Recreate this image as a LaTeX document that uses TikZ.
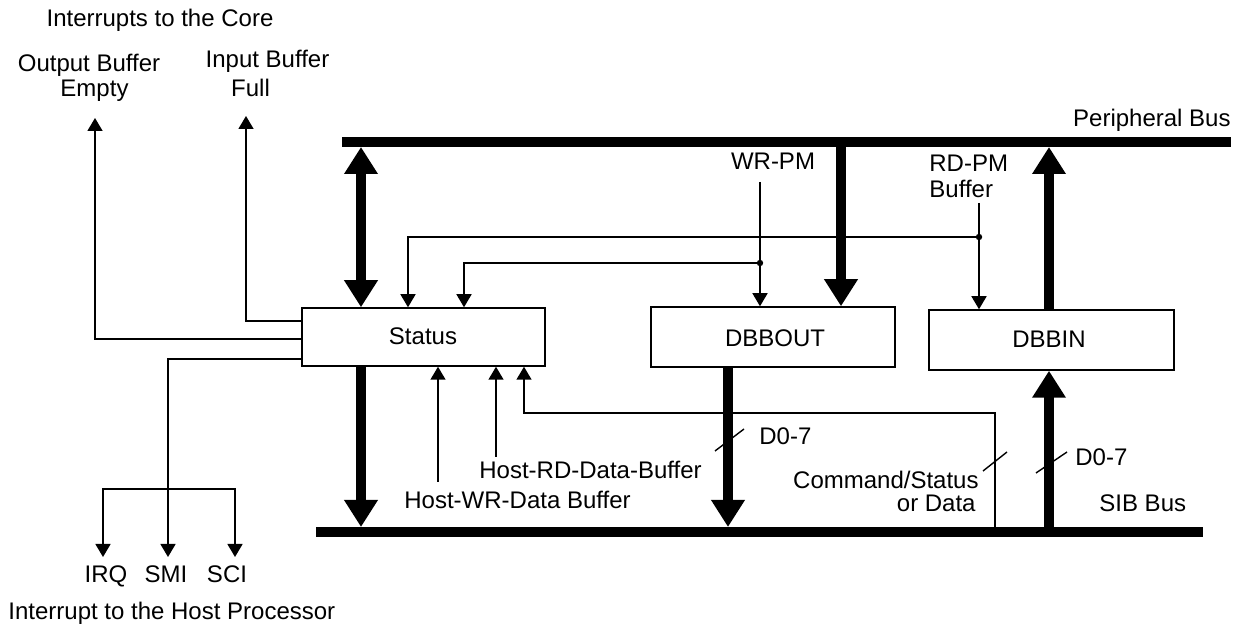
\documentclass[tikz,border=0pt]{standalone}
\usepackage{fontspec}
\setmainfont{Liberation Sans}
\usetikzlibrary{arrows.meta}
\begin{document}
\begin{tikzpicture}[x=0.5pt,y=-0.5pt,
  every node/.style={font=\fontsize{12}{14}\selectfont, inner sep=0pt},
  box/.style={draw, line width=0.75pt, inner sep=0pt},
  thinline/.style={line width=0.75pt},
  thinarrow/.style={line width=0.75pt, -{Triangle[width=7.5pt,length=6.5pt]}},
  bus/.style={line width=5pt},
  fat/.style={line width=5pt, -{Triangle[width=16pt,length=13.5pt]}},
  fatboth/.style={line width=5pt, {Triangle[width=16pt,length=13.5pt]}-{Triangle[width=16pt,length=13.5pt]}},
  slash/.style={line width=0.7pt}
]
\useasboundingbox (0,0) rectangle (1243,625);

% boxes
\node[box, minimum width=121.5pt, minimum height=29pt] (status) at (423.5,337) {};
\node[anchor=base] (statust) at (423,345) {Status};
\node[box, minimum width=122pt, minimum height=30pt] (dbbout) at (773,337) {};
\node[anchor=base] (dbboutt) at (775,347) {DBBOUT};
\node[box, minimum width=122.5pt, minimum height=30pt] (dbbin) at (1051.5,340) {};
\node[anchor=base] (dbbint) at (1049,348) {DBBIN};

% buses
\coordinate (pb1) at (342,142); \coordinate (pb2) at (1231,142);
\coordinate (sb1) at (316,532); \coordinate (sb2) at (1203,532);
\draw[bus] (pb1) -- (pb2);
\draw[bus] (sb1) -- (sb2);
\node[anchor=base east] (pbl) at (1231,127) {Peripheral Bus};
\node[anchor=base west] (sbl) at (1099,512) {SIB Bus};

% thick arrows
\coordinate (pbS) at (361,147);
\draw[fatboth] (pbS) -- (pbS |- status.north);
\coordinate (sbS) at (361,527);
\draw[fat] (status.south -| sbS) -- (sbS);
\coordinate (pbO) at (841,147);
\draw[fat] (pbO) -- (pbO |- dbbout.north);
\coordinate (sbO) at (728,527);
\draw[fat] (dbbout.south -| sbO) -- (sbO);
\coordinate (pbI) at (1049,147);
\draw[fat] (pbI |- dbbin.north) -- (pbI);
\coordinate (sbI) at (1049,527);
\draw[fat] (sbI) -- (sbI |- dbbin.south);

% WR-PM
\node[anchor=base] (wrpm) at (773,170) {WR-PM};
\coordinate (wrTop) at (760,182);
\coordinate (wrJ) at (760,263);
\draw[thinarrow] (wrTop) -- (wrTop |- dbbout.north);
\fill (wrJ) circle (1.6pt);
\draw[thinarrow] (wrJ) -| ([xshift=20.25pt]status.north);

% RD-PM
\node[anchor=base west] (rdpm1) at (929,172) {RD-PM};
\node[anchor=base west] (rdpm2) at (929,198) {Buffer};
\coordinate (rdTop) at (979,203);
\coordinate (rdJ) at (979,237);
\draw[thinarrow] (rdTop) -- (rdTop |- dbbin.north);
\fill (rdJ) circle (1.6pt);
\draw[thinarrow] (rdJ) -| ([xshift=-7.75pt]status.north);

% host buffer arrows into Status
\coordinate (hw) at (438,482);
\draw[thinarrow] (hw) -- (hw |- status.south);
\coordinate (hr) at (496,457);
\draw[thinarrow] (hr) -- (hr |- status.south);
\node[anchor=base west] (hrl) at (479,479) {Host-RD-Data-Buffer};
\node[anchor=base west] (hwl) at (404,509) {Host-WR-Data Buffer};

% command/status line
\coordinate (cs) at (995,527);
\coordinate (csC) at (524,413);
\draw[thinarrow] (cs) |- (csC) -- (csC |- status.south);
\node[anchor=base east] (csl1) at (979,489) {Command/Status};
\node[anchor=base east] (csl2) at (976,512) {or Data};

% slashes
\coordinate (sl1) at (729,440);
\draw[slash] (sl1) +(-14,11) -- +(15,-11);
\coordinate (sl2) at (1051,462);
\draw[slash] (sl2) +(-15,11) -- +(16,-10);
\coordinate (sl3) at (995,461);
\draw[slash] (sl3) +(-12,10) -- +(12,-9);
\node[anchor=base west] (d1) at (759,445) {D0-7};
\node[anchor=base west] (d2) at (1075,466) {D0-7};

% interrupts to the core
\node[anchor=base] (ic) at (160,27) {Interrupts to the Core};
\node[anchor=base] (ob1) at (89,72) {Output Buffer};
\node[anchor=base] (ob2) at (94.5,97) {Empty};
\node[anchor=base] (ib1) at (267.5,68) {Input Buffer};
\node[anchor=base] (ib2) at (250.5,97) {Full};
\coordinate (obe) at (95,118);
\coordinate (ibf) at (246,116);
\draw[thinarrow] ([yshift=-1pt]status.west) -| (obe);
\draw[thinarrow] ([yshift=8pt]status.west) -| (ibf);

% interrupts to the host
\coordinate (irq) at (103,557);
\coordinate (smi) at (168,557);
\coordinate (sci) at (235,557);
\coordinate (fork) at (168,489);
\draw[thinarrow] ([yshift=-11pt]status.west) -| (smi);
\draw[thinarrow] (fork) -| (irq);
\draw[thinarrow] (fork) -| (sci);
\node[anchor=base] (irql) at (106,582) {IRQ};
\node[anchor=base] (smil) at (166,582) {SMI};
\node[anchor=base] (scil) at (227,582) {SCI};
\node[anchor=base west] (ih) at (8,619) {Interrupt to the Host Processor};
\end{tikzpicture}
\end{document}
